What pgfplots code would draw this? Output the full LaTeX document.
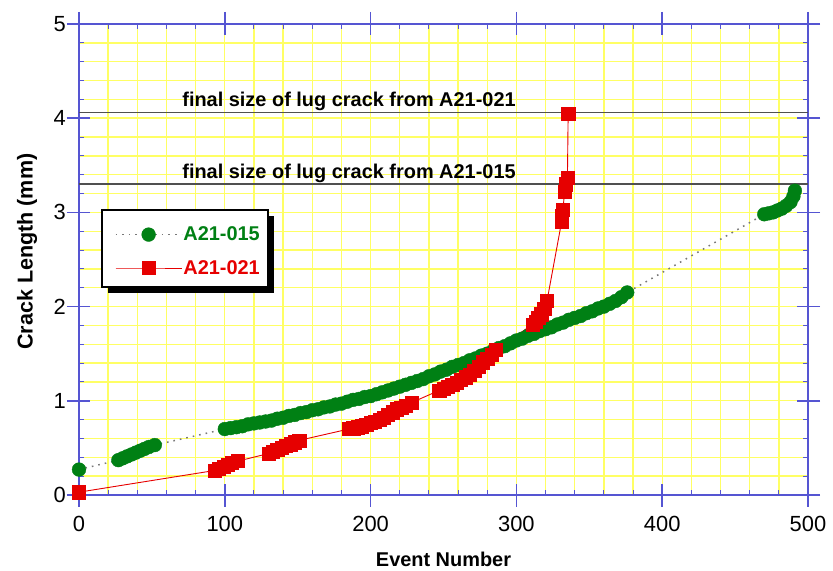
\documentclass[border=0pt]{standalone}
\usepackage{fontspec}
\setmainfont{Liberation Sans}
\usepackage{pgfplots}
\pgfplotsset{compat=1.18}
\definecolor{axisblue}{RGB}{85,85,210}
\definecolor{gridyellow}{RGB}{255,255,100}
\definecolor{gr}{RGB}{0,128,20}
\definecolor{rd}{RGB}{230,0,0}
\definecolor{refline}{RGB}{80,80,80}
\definecolor{dotgray}{RGB}{120,120,120}
\begin{document}
\begin{tikzpicture}
\begin{axis}[
  scale only axis, width=729bp, height=471bp,
  xmin=0, xmax=500, ymin=0, ymax=5,
  clip=false,
  xtick={0,100,...,500}, ytick={0,1,...,5},
  minor x tick num=4, minor y tick num=4,
  tick align=inside,
  major tick length=11bp, minor tick length=5bp,
  extra x ticks={0,100,200,300,400,500}, extra y ticks={0,1,2,3,4,5},
  extra x tick labels={}, extra y tick labels={},
  extra tick style={tick align=outside, grid=none, major tick length=12bp},
  axis line style={draw=axisblue, line width=1.5bp},
  tick style={draw=axisblue, line width=1.5bp},
  minor tick style={draw=axisblue, line width=1bp},
  grid=both,
  grid style={draw=gridyellow, line width=1.4bp},
  minor grid style={draw=gridyellow, line width=1.4bp},
  major grid style={draw=gridyellow, line width=1.4bp},
  ticklabel style={font=\fontsize{22}{26}\selectfont},
  /pgf/number format/assume math mode=true,
  xticklabel style={yshift=-17.5bp},
  yticklabel style={xshift=-9.7bp},
  xlabel={Event Number}, ylabel={Crack Length (mm)},
  every axis x label/.style={at={(axis description cs:0.5,-0.152)}, anchor=base, font=\fontsize{20}{24}\selectfont\bfseries},
  every axis y label/.style={at={(axis description cs:-0.0635,0.5166)}, rotate=90, anchor=base, font=\fontsize{21.6}{26}\selectfont\bfseries},
  legend style={at={(axis description cs:0.0311,0.6051)}, anchor=north west,
    draw=none, fill=none,
    inner xsep=13bp, inner ysep=13.7bp, row sep=12bp,
    font=\fontsize{20}{24}\selectfont\bfseries,
    nodes={inner xsep=1bp, inner ysep=3bp}, cells={anchor=west}},
  legend image code/.code={\draw[mark repeat=2,mark phase=2,#1] plot coordinates {(0bp,0bp)(33bp,0bp)(66bp,0bp)};},
]
\fill[black] (axis description cs:0.0393,0.5924) rectangle (axis description cs:0.2675,0.4295);
\filldraw[fill=white, draw=black, line width=2bp] (axis description cs:0.0311,0.6051) rectangle (axis description cs:0.2593,0.4423);
\addplot[refline, line width=1.3bp, forget plot] coordinates {(0,4.06)(500,4.06)};
\addplot[refline, line width=1.3bp, forget plot] coordinates {(0,3.30)(500,3.30)};
\node[anchor=base west, font=\fontsize{20}{24}\selectfont\bfseries, yshift=5.6bp] at (axis cs:68.5,4.06) {final size of lug crack from A21-021};
\node[anchor=base west, font=\fontsize{20}{24}\selectfont\bfseries, yshift=5.6bp] at (axis cs:68.5,3.30) {final size of lug crack from A21-015};

\addplot[color=dotgray, line width=1.5bp, dash pattern=on 1.6bp off 5bp, mark=*, mark size=6.9bp,
  mark options={solid, fill=gr, draw=gr, line width=0.4bp}] coordinates {
(0,0.27)
(27,0.37)(30,0.39)(33,0.41)(36,0.43)(39,0.45)(42,0.47)(45,0.49)(48,0.51)(52,0.53)
(100,0.70)(104,0.71)(108,0.72)(112,0.73)(116,0.75)(120,0.76)(124,0.77)(128,0.78)
(132,0.79)(136,0.81)(140,0.82)(144,0.84)(148,0.85)(152,0.87)(156,0.88)(160,0.90)
(164,0.91)(168,0.93)(172,0.94)(176,0.96)(180,0.97)(184,0.99)(188,1.01)(192,1.02)
(196,1.04)(200,1.05)(204,1.07)(208,1.09)(212,1.11)(216,1.13)(220,1.15)(224,1.17)
(228,1.19)(232,1.21)(236,1.23)(240,1.26)(244,1.28)(248,1.31)(252,1.33)(256,1.36)
(260,1.38)(264,1.40)(268,1.43)(272,1.45)(276,1.48)(280,1.50)(284,1.53)(288,1.56)
(292,1.58)(296,1.61)(300,1.64)(304,1.66)(308,1.69)(312,1.71)(316,1.74)(320,1.76)
(324,1.78)(328,1.81)(332,1.83)(336,1.86)(340,1.88)(344,1.90)(348,1.93)(352,1.95)
(356,1.98)(360,2.00)(364,2.03)(368,2.06)(372,2.10)(376,2.15)
(470,2.98)(473,2.99)(476,3.00)(479,3.02)(482,3.04)(485,3.07)(488,3.11)(490,3.17)(491,3.23)
};
\addlegendentry{\textcolor{gr}{A21-015}}

\addplot[color=rd, line width=0.9bp, solid, mark=square*, mark size=6.6bp,
  mark options={fill=rd, draw=rd, line width=0.4bp}] coordinates {
(0,0.03)
(93,0.26)(96,0.28)(99,0.30)(102,0.32)(105,0.34)(109,0.36)
(130,0.44)(133,0.46)(136,0.48)(139,0.50)(142,0.52)(145,0.54)(148,0.56)(151,0.58)
(185,0.70)(188,0.71)(191,0.72)(194,0.73)(197,0.75)(200,0.77)(203,0.78)(206,0.80)
(209,0.82)(212,0.85)(215,0.88)(218,0.91)(221,0.93)(224,0.95)(228,0.98)
(247,1.11)(250,1.13)(253,1.15)(256,1.17)(259,1.19)(262,1.22)(265,1.25)(268,1.28)
(271,1.32)(274,1.36)(277,1.41)(280,1.45)(283,1.49)(286,1.54)
(311,1.81)(313,1.84)(315,1.88)(317,1.92)(319,1.98)(321,2.06)
(331,2.90)(331,2.96)(332,3.03)(333,3.22)(334,3.30)(335,3.37)(335.5,4.05)
};
\addlegendentry{\textcolor{rd}{A21-021}}
\end{axis}
\path (current axis.south west) ++(-79bp,-74bp) rectangle ++(833bp,569bp);
\end{tikzpicture}
\end{document}
